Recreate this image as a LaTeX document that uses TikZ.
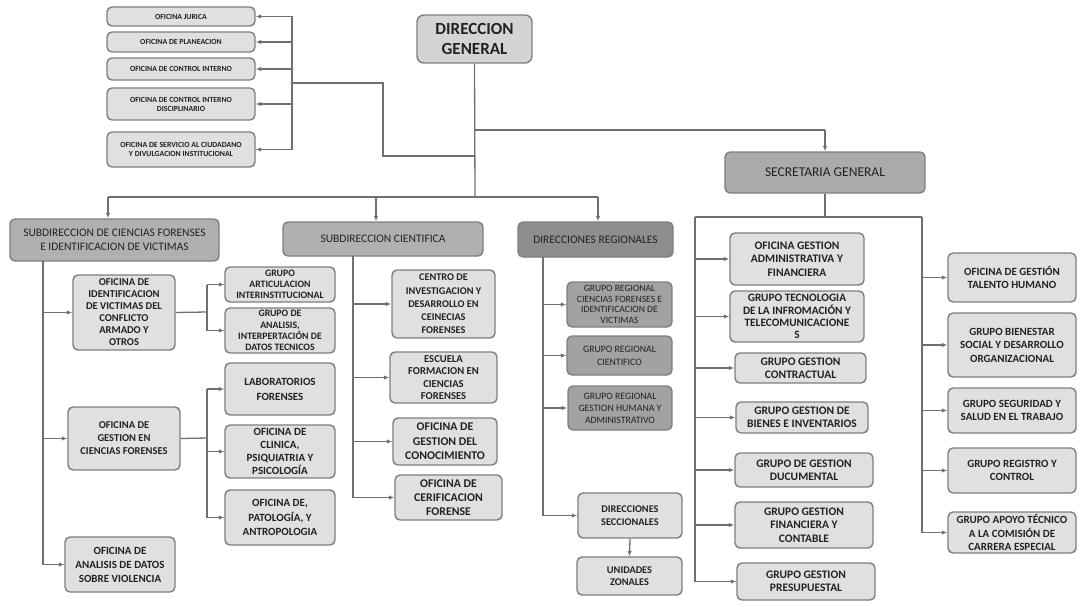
\documentclass[tikz,border=0pt]{standalone}
\usepackage{fontspec}
\setmainfont{Carlito}
\usetikzlibrary{arrows.meta}
\definecolor{bordc}{HTML}{7E7E7E}
\definecolor{linec}{HTML}{707070}
\definecolor{lightc}{HTML}{E0E0E0}
\definecolor{dgc}{HTML}{D4D4D4}
\definecolor{subc}{HTML}{B0B0B0}
\definecolor{drc}{HTML}{8E8E8E}
\definecolor{sgc}{HTML}{ABABAB}
\definecolor{grc}{HTML}{A2A2A2}
\definecolor{txtc}{HTML}{222222}
\newcommand{\orgbox}[7]{\node[#2, minimum width={#5-#3}, minimum height={#6-#4}] (#1) at ({(#3+#5)/2},{(#4+#6)/2}) {#7};}
\newcommand{\fsz}[2]{\fontsize{#1}{#2}\selectfont}
\tikzset{
  base/.style={draw=bordc, rounded corners=5pt, line width=1.4pt, align=center, inner sep=1pt, text=txtc},
  office/.style={base, fill=lightc, font=\bfseries\fsz{7.8}{9}},
  dgbox/.style={base, fill=dgc, rounded corners=7pt, font=\bfseries\fsz{17}{20}},
  subbox/.style={base, fill=subc, font=\fsz{11.5}{13.5}},
  drbox/.style={base, fill=drc, font=\fsz{11.5}{13.5}},
  sgbox/.style={base, fill=sgc, font=\fsz{13.5}{15}},
  leftbox/.style={base, fill=lightc, font=\bfseries\fsz{10.5}{12}},
  grpbox/.style={base, fill=lightc, font=\bfseries\fsz{9.8}{11.2}},
  regbox/.style={base, fill=grc, font=\fsz{9.6}{10.6}},
  sgchild/.style={base, fill=lightc, font=\bfseries\fsz{11.5}{13.3}},
  rightbox/.style={base, fill=lightc, font=\bfseries\fsz{11}{13.5}},
  conn/.style={draw=linec, line width=1.3pt},
  arr/.style={conn, -{Latex[length=5.5pt,width=4.5pt]}}
}
\begin{document}
\begin{tikzpicture}[x=1pt,y=-1pt]
\useasboundingbox (0,0) rectangle (1081,607);
% top offices
\orgbox{jur}{office}{107}{7}{255}{26}{OFICINA JURICA}
\orgbox{plan}{office}{107}{32}{255}{52}{OFICINA DE PLANEACION}
\orgbox{ci}{office}{107}{58}{255}{80}{OFICINA DE CONTROL INTERNO}
\orgbox{cid}{office}{107}{88}{255}{120}{OFICINA DE CONTROL INTERNO\\DISCIPLINARIO}
\orgbox{serv}{office}{107}{132}{255}{167}{OFICINA DE SERVICIO AL CIUDADANO\\Y DIVULGACION INSTITUCIONAL}
% main
\orgbox{dg}{dgbox}{417}{15}{532}{63}{DIRECCION\\GENERAL}
\orgbox{subcf}{subbox}{10}{219}{219}{261}{SUBDIRECCION DE CIENCIAS FORENSES\\E IDENTIFICACION DE VICTIMAS}
\orgbox{subsci}{subbox}{283}{222}{483}{256}{SUBDIRECCION CIENTIFICA}
\orgbox{dr}{drbox}{518}{222}{673}{257}{DIRECCIONES REGIONALES}
\orgbox{sg}{sgbox}{725}{152}{925}{193}{SECRETARIA GENERAL}
% left column
\orgbox{ofiid}{leftbox}{73}{275}{175}{350}{OFICINA DE\\IDENTIFICACION\\DE VICTIMAS DEL\\CONFLICTO\\ARMADO Y\\OTROS}
\orgbox{ofiges}{leftbox,font=\bfseries\fsz{10.5}{13}}{68}{407}{180}{470}{OFICINA DE\\GESTION EN\\CIENCIAS FORENSES}
\orgbox{ofian}{leftbox,font=\bfseries\fsz{11}{14}}{65}{537}{175}{592}{OFICINA DE\\ANALISIS DE DATOS\\SOBRE VIOLENCIA}
\orgbox{grpart}{grpbox}{225}{267}{335}{302}{GRUPO\\ARTICULACION\\INTERINSTITUCIONAL}
\orgbox{grpana}{grpbox}{225}{308}{335}{353}{GRUPO DE\\ANALISIS,\\INTERPERTACIÓN DE\\DATOS TECNICOS}
\orgbox{lab}{leftbox,font=\bfseries\fsz{11}{15}}{225}{363}{335}{415}{LABORATORIOS\\FORENSES}
\orgbox{cli}{leftbox,font=\bfseries\fsz{11}{12.8}}{225}{425}{335}{478}{OFICINA DE\\CLINICA,\\PSIQUIATRIA Y\\PSICOLOGÍA}
\orgbox{pat}{leftbox,font=\bfseries\fsz{11}{14.5}}{225}{490}{335}{545}{OFICINA DE,\\PATOLOGÍA, Y\\ANTROPOLOGIA}
% cientifica
\orgbox{cen}{leftbox,font=\bfseries\fsz{10.3}{13.2}}{392}{270}{495}{338}{CENTRO DE\\INVESTIGACION Y\\DESARROLLO EN\\CEINECIAS\\FORENSES}
\orgbox{esc}{leftbox,font=\bfseries\fsz{10.6}{12.4}}{390}{352}{497}{403}{ESCUELA\\FORMACION EN\\CIENCIAS\\FORENSES}
\orgbox{con}{leftbox,font=\bfseries\fsz{11.8}{14.5}}{393}{418}{497}{465}{OFICINA DE\\GESTION DEL\\CONOCIMIENTO}
\orgbox{cer}{leftbox,font=\bfseries\fsz{11.8}{14.2}}{395}{475}{502}{520}{OFICINA DE\\CERIFICACION\\FORENSE}
% regionales
\orgbox{gra}{regbox}{567}{282}{672}{327}{GRUPO REGIONAL\\CIENCIAS FORENSES E\\IDENTIFICACION DE\\VICTIMAS}
\orgbox{grb}{regbox,font=\fsz{9.8}{13}}{567}{336}{672}{375}{GRUPO REGIONAL\\CIENTIFICO}
\orgbox{grc}{regbox,font=\fsz{9.8}{12}}{568}{386}{672}{430}{GRUPO REGIONAL\\GESTION HUMANA Y\\ADMINISTRATIVO}
\orgbox{sec}{leftbox,font=\bfseries\fsz{10.3}{13.5}}{578}{493}{682}{538}{DIRECCIONES\\SECCIONALES}
\orgbox{uni}{leftbox,font=\bfseries\fsz{10.3}{12.5}}{577}{557}{682}{595}{UNIDADES\\ZONALES}
% secretaria children
\orgbox{adm}{sgchild}{730}{233}{864}{285}{OFICINA GESTION\\ADMINISTRATIVA Y\\FINANCIERA}
\orgbox{tec}{sgchild,font=\bfseries\fsz{11.3}{12.2}}{730}{291}{864}{342}{GRUPO TECNOLOGIA\\DE LA INFROMACIÓN Y\\TELECOMUNICACIONE\\S}
\orgbox{ctr}{sgchild}{735}{353}{866}{383}{GRUPO GESTION\\CONTRACTUAL}
\orgbox{bie}{sgchild}{736}{402}{868}{433}{GRUPO GESTION DE\\BIENES E INVENTARIOS}
\orgbox{doc}{sgchild}{735}{453}{873}{487}{GRUPO DE GESTION\\DUCUMENTAL}
\orgbox{fin}{sgchild}{735}{502}{873}{548}{GRUPO GESTION\\FINANCIERA Y\\CONTABLE}
\orgbox{pre}{sgchild}{737}{563}{875}{600}{GRUPO GESTION\\PRESUPUESTAL}
% right column
\orgbox{tal}{rightbox}{948}{253}{1076}{302}{OFICINA DE GESTIÓN\\TALENTO HUMANO}
\orgbox{bien}{rightbox}{948}{313}{1076}{377}{GRUPO BIENESTAR\\SOCIAL Y DESARROLLO\\ORGANIZACIONAL}
\orgbox{seg}{rightbox}{948}{388}{1076}{433}{GRUPO SEGURIDAD Y\\SALUD EN EL TRABAJO}
\orgbox{reg}{rightbox}{948}{448}{1076}{493}{GRUPO REGISTRO Y\\CONTROL}
\orgbox{apo}{rightbox}{948}{512}{1076}{553}{GRUPO APOYO TÉCNICO\\A LA COMISIÓN DE\\CARRERA ESPECIAL}
% junction coordinates
\coordinate (jb) at (475,197);
\coordinate (jl) at (108,197);
\coordinate (js) at (376,197);
\coordinate (jr) at (598,197);
\coordinate (jsg) at (475,130);
\coordinate (jsg2) at (825,130);
\coordinate (jo) at (475,156);
\coordinate (jo2) at (383,156);
\coordinate (jo3) at (383,83);
\coordinate (ob) at (292,83);
\coordinate (lv) at (43,261);
\coordinate (b1) at (207,312);
\coordinate (b2) at (207,438);
\coordinate (sv) at (353,256);
\coordinate (rv) at (543,257);
\coordinate (sgj) at (825,217);
\coordinate (sgl) at (695,217);
\coordinate (sgr) at (922,217);
% top connectors
\draw[conn] (dg.south) -- (jb);
\draw[conn] (jsg) -- (jsg2);
\draw[arr] (jsg2) -- (sg.north);
\draw[conn] (jo) -- (jo2) -- (jo3) -- (ob);
\draw[conn] (ob |- jur.east) -- (ob |- serv.east);
\foreach \n in {jur,plan,ci,cid,serv} \draw[arr] (ob |- \n.east) -- (\n.east);
\draw[conn] (jl) -- (jr);
\draw[arr] (jl) -- (jl |- subcf.north);
\draw[arr] (js) -- (js |- subsci.north);
\draw[arr] (jr) -- (jr |- dr.north);
% left subdireccion
\draw[conn] (lv) -- (lv |- ofian.west);
\foreach \n in {ofiid,ofiges,ofian} \draw[arr] (lv |- \n.west) -- (\n.west);
\draw[conn] (ofiid.east) -- (b1);
\draw[conn] (b1 |- grpart.west) -- (b1 |- grpana.west);
\foreach \n in {grpart,grpana} \draw[arr] (b1 |- \n.west) -- (\n.west);
\draw[conn] (ofiges.east) -- (b2);
\draw[conn] (b2 |- lab.west) -- (b2 |- pat.west);
\foreach \n in {lab,cli,pat} \draw[arr] (b2 |- \n.west) -- (\n.west);
% cientifica
\draw[conn] (sv) -- (sv |- cer.west);
\foreach \n in {cen,esc,con,cer} \draw[arr] (sv |- \n.west) -- (\n.west);
% regionales
\draw[conn] (rv) -- (rv |- sec.west);
\foreach \n in {gra,grb,grc,sec} \draw[arr] (rv |- \n.west) -- (\n.west);
\draw[arr] (sec.south) -- (uni.north);
% secretaria
\draw[conn] (sg.south) -- (sgj);
\draw[conn] (sgl) -- (sgr);
\draw[conn] (sgl) -- (sgl |- pre.west);
\foreach \n in {adm,tec,ctr,bie,doc,fin,pre} \draw[arr] (sgl |- \n.west) -- (\n.west);
\draw[conn] (sgr) -- (sgr |- apo.west);
\foreach \n in {tal,bien,seg,reg,apo} \draw[arr] (sgr |- \n.west) -- (\n.west);
\end{tikzpicture}
\end{document}
